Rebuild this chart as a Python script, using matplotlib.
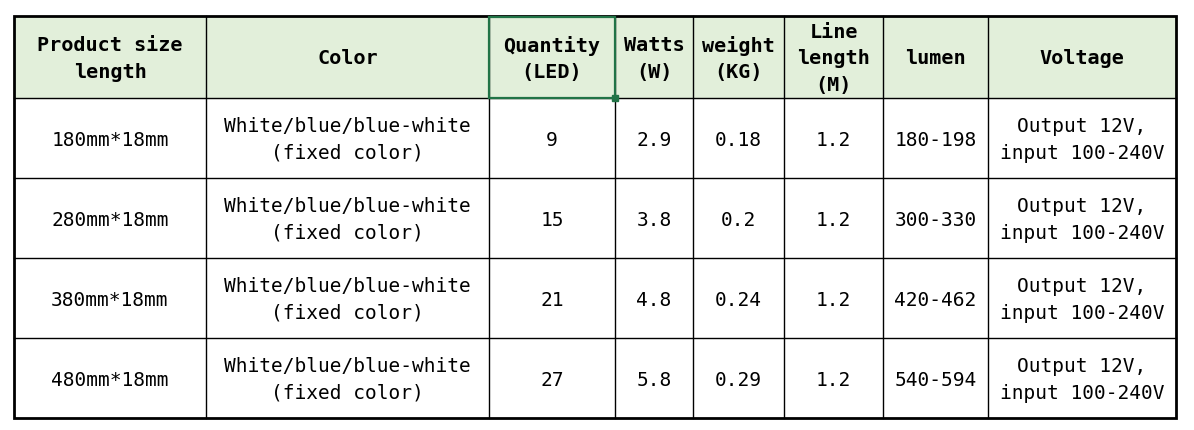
import matplotlib.pyplot as plt
from matplotlib.patches import Rectangle

# table content
headers = ['Product size\nlength', 'Color', 'Quantity\n(LED)', 'Watts\n(W)',
           'weight\n(KG)', 'Line\nlength\n(M)', 'lumen', 'Voltage']
sizes = ['180mm*18mm', '280mm*18mm', '380mm*18mm', '480mm*18mm']
colors = ['White/blue/blue-white\n(fixed color)'] * 4
quantity = ['9', '15', '21', '27']
watts = ['2.9', '3.8', '4.8', '5.8']
weight = ['0.18', '0.2', '0.24', '0.29']
line_len = ['1.2', '1.2', '1.2', '1.2']
lumen = ['180-198', '300-330', '420-462', '540-594']
voltage = ['Output 12V,\ninput 100-240V'] * 4

# layout (pixels)
col_edges = [14, 206, 489, 615, 693, 784, 883, 988, 1176]
row_edges = [16, 98, 178, 258, 338, 418]

fig = plt.figure(figsize=(11.94, 4.30), dpi=100)
ax = fig.add_axes([0, 0, 1, 1])
ax.set_xlim(0, 1194)
ax.set_ylim(430, 0)
ax.axis('off')

font = 'DejaVu Sans Mono'

# header background
ax.add_patch(Rectangle((col_edges[0], row_edges[0]), col_edges[-1] - col_edges[0],
                       row_edges[1] - row_edges[0], color='#e2efda', zorder=0))

# grid lines
for x in col_edges[1:-1]:
    ax.plot([x, x], [row_edges[0], row_edges[-1]], color='black', lw=1.0, zorder=2)
for y in row_edges[1:-1]:
    ax.plot([col_edges[0], col_edges[-1]], [y, y], color='black', lw=1.0, zorder=2)
ax.add_patch(Rectangle((col_edges[0], row_edges[0]), col_edges[-1] - col_edges[0],
                       row_edges[-1] - row_edges[0], fill=False, ec='black', lw=2.0, zorder=3))

# selected cell (Quantity header)
ax.add_patch(Rectangle((col_edges[2], row_edges[0] + 1), col_edges[3] - col_edges[2],
                       row_edges[1] - row_edges[0] - 1, fill=False, ec='#217346', lw=1.6, zorder=4))
ax.plot([col_edges[3]], [row_edges[1]], marker='s', ms=4, color='#217346', zorder=5)

# header texts
for i, h in enumerate(headers):
    cx = (col_edges[i] + col_edges[i + 1]) / 2
    cy = (row_edges[0] + row_edges[1]) / 2 + 2
    ax.text(cx, cy, h, ha='center', va='center', family=font, fontsize=14.5,
            fontweight='bold', linespacing=1.5, zorder=6)

# body texts
columns = [sizes, colors, quantity, watts, weight, line_len, lumen, voltage]
for j, col in enumerate(columns):
    cx = (col_edges[j] + col_edges[j + 1]) / 2
    for r, val in enumerate(col):
        cy = (row_edges[r + 1] + row_edges[r + 2]) / 2 + 2
        ax.text(cx, cy, val, ha='center', va='center', family=font, fontsize=14,
                linespacing=1.48, zorder=6)

fig.savefig('out.png', dpi=100, facecolor='white')
